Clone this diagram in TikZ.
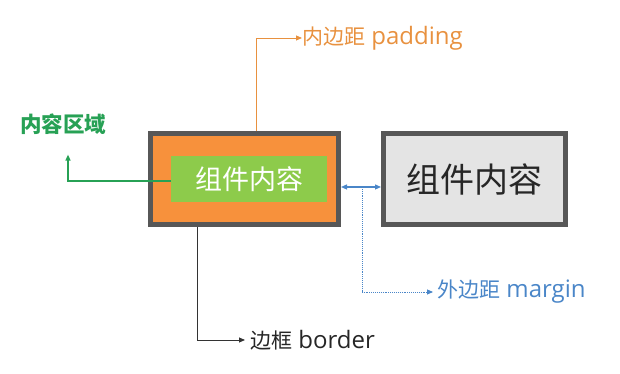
\documentclass[tikz,border=0pt]{standalone}
\usepackage{fontspec}
\setmainfont{Open Sans}
\newfontfamily\cjk{Noto Sans CJK SC}
\usetikzlibrary{arrows.meta, positioning, calc}

\definecolor{padorange}{HTML}{F7913C}
\definecolor{padtext}{HTML}{E8913F}
\definecolor{ctgreen}{HTML}{8DCB4B}
\definecolor{cttext}{HTML}{27A155}
\definecolor{mgblue}{HTML}{4A86C8}
\definecolor{bdgray}{HTML}{575757}
\definecolor{boxgray}{HTML}{E4E4E4}

\newcommand{\cjklbl}[1]{{\cjk\fontsize{21}{24}\selectfont #1}}

\begin{document}
\begin{tikzpicture}[
    x=1pt, y=1pt,
    compbox/.style={rectangle, draw=bdgray, line width=5pt, minimum width=188pt, minimum height=91pt, inner sep=0pt},
    innerbox/.style={rectangle, fill=ctgreen, minimum width=156pt, minimum height=46pt, inner sep=0pt, text=white, font=\cjk\fontsize{27}{30}\selectfont},
    label/.style={font=\fontsize{24}{27}\selectfont, inner sep=0pt},
    arrow/.style={-{Triangle[length=6pt, width=5pt]}, line width=0.9pt}
]
\useasboundingbox (0,0) rectangle (620,374);

% boxes
\node[compbox, fill=padorange] (comp) at (244.5,195) {};
\node[innerbox] (content) at (249,195) {组件内容};
\node[compbox, fill=boxgray, minimum width=182pt, font=\cjk\fontsize{34}{38}\selectfont, text=black!85] (other) at (474.5,195) {组件内容};

% labels
\node[label, text=padtext, anchor=west] (padlbl) at (302,336) {\cjklbl{内边距} padding};
\node[label, text=cttext, font=\cjk\fontsize{21.5}{24}\selectfont\bfseries] (ctlbl) at (63,250) {内容区域};
\node[label, text=mgblue, anchor=west] (mglbl) at (437,82) {\cjklbl{外边距} margin};
\node[label, text=black!85, anchor=west] (bdlbl) at (250,34) {\cjklbl{边框} border};

% connectors
\draw[arrow, padtext] ([xshift=11.5pt]comp.north) |- (padlbl.west);
\draw[arrow, cttext, line width=1.3pt] ([yshift=-2pt]content.west) -| ([xshift=5pt,yshift=-20pt]ctlbl.south);
\draw[{Triangle[length=6pt, width=5pt]}-{Triangle[length=6pt, width=5pt]}, line width=1.2pt, mgblue]
  ([yshift=-8pt]comp.east) -- coordinate[pos=0.53] (mgmid) ([yshift=-8pt]other.west);
\draw[arrow, mgblue, densely dotted] (mgmid) |- ([xshift=-4pt]mglbl.west);
\draw[arrow, black!80] ([xshift=-47.5pt]comp.south) |- ([xshift=-5pt]bdlbl.west);

\end{tikzpicture}
\end{document}
